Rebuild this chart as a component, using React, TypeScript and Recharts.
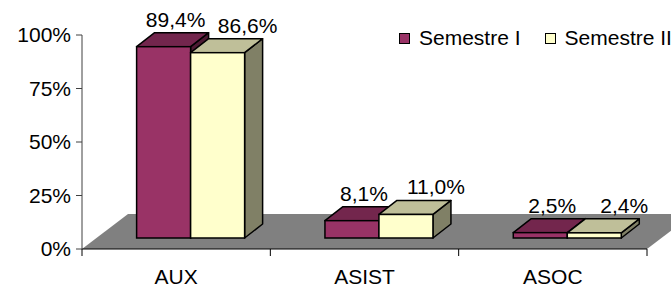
import { BarChart, Bar, XAxis, YAxis, Legend, ReferenceArea } from "recharts";

const categories = ["AUX", "ASIST", "ASOC"];
const semestreI = [89.4, 8.1, 2.5];
const semestreII = [86.6, 11.0, 2.4];
const yTicks = [0, 25, 50, 75, 100];

const data = categories.map((name, i) => ({
  name,
  s1: semestreI[i],
  s2: semestreII[i],
}));

const FONT = '"Liberation Sans", Arial, sans-serif';
const FS = 21;
// bars stand half way back on the floor
const SHIFT_X = 14.5;
const SHIFT_Y = 11;
// depth of a single box
const DEPTH_X = 18;
const DEPTH_Y = 14;
// depth of the floor
const FLOOR_X = 46;
const FLOOR_Y = 35;

const fmt = (v: number) => v.toFixed(1).replace(".", ",") + "%";

function Box3D(props: any) {
  const { x, y, width: w, height: h, front, top, side, value, labelDx } = props;
  const fx = x + SHIFT_X;
  const fy = y - SHIFT_Y;
  const topPts = [
    [fx, fy],
    [fx + DEPTH_X, fy - DEPTH_Y],
    [fx + w + DEPTH_X, fy - DEPTH_Y],
    [fx + w, fy],
  ];
  const sidePts = [
    [fx + w, fy],
    [fx + w + DEPTH_X, fy - DEPTH_Y],
    [fx + w + DEPTH_X, fy + h - DEPTH_Y],
    [fx + w, fy + h],
  ];
  const pts = (p: number[][]) => p.map((q) => q.join(",")).join(" ");
  return (
    <g>
      <polygon points={pts(sidePts)} fill={side} stroke="#000" strokeWidth={1.5} strokeLinejoin="round" />
      <polygon points={pts(topPts)} fill={top} stroke="#000" strokeWidth={1.5} strokeLinejoin="round" />
      <rect x={fx} y={fy} width={w} height={h} fill={front} stroke="#000" strokeWidth={1.5} />
      <text
        x={fx + w / 2 + labelDx}
        y={fy - DEPTH_Y - 6}
        textAnchor="middle"
        fontFamily={FONT}
        fontSize={FS}
        fill="#000"
      >
        {fmt(value)}
      </text>
    </g>
  );
}

function Floor(props: any) {
  const { x, y, width, height } = props;
  const b = y + height;
  const points = [
    [x, b],
    [x + width, b],
    [x + width + FLOOR_X, b - FLOOR_Y],
    [x + FLOOR_X, b - FLOOR_Y],
  ]
    .map((q) => q.join(","))
    .join(" ");
  return <polygon points={points} fill="#808080" stroke="none" />;
}

function CategoryTick(props: any) {
  const { x, y, payload, index, width, visibleTicksCount } = props;
  const n = visibleTicksCount ?? categories.length;
  const band = (width ?? 565) / n;
  const lineTop = y - 20;
  return (
    <g>
      <line x1={x - band / 2} y1={lineTop} x2={x - band / 2} y2={lineTop + 7} stroke="#000" />
      {index === n - 1 && (
        <line x1={x + band / 2} y1={lineTop} x2={x + band / 2} y2={lineTop + 7} stroke="#000" />
      )}
      <text x={x} y={y} dy="0.71em" textAnchor="middle" fontFamily={FONT} fontSize={FS} fill="#000">
        {payload.value}
      </text>
    </g>
  );
}

function LegendBox({ payload }: any) {
  return (
    <div style={{ display: "flex", alignItems: "center", fontFamily: FONT, fontSize: FS, whiteSpace: "nowrap", color: "#000" }}>
      {(payload || []).map((p: any) => (
        <span key={p.value} style={{ display: "flex", alignItems: "center", marginRight: 24 }}>
          <span
            style={{
              display: "inline-block",
              width: 11,
              height: 11,
              boxSizing: "border-box",
              border: "1px solid #000",
              background: p.color,
              marginRight: 9,
            }}
          />
          {p.value}
        </span>
      ))}
    </div>
  );
}

export default function App() {
  return (
    <div style={{ width: 671, height: 287, overflow: "hidden", background: "#fff" }}>
      <style>{"body{margin:0}"}</style>
      <BarChart
        width={671}
        height={287}
        data={data}
        margin={{ top: 35, right: 24, bottom: 8, left: 22 }}
        barCategoryGap="21.3%"
        barGap={0}
      >
        <ReferenceArea y1={0} y2={100} ifOverflow="visible" shape={<Floor />} />
        <XAxis
          dataKey="name"
          height={30}
          tick={<CategoryTick />}
          tickLine={false}
          tickSize={7}
          tickMargin={13}
          axisLine={{ stroke: "#000" }}
          interval={0}
        />
        <YAxis
          width={60}
          domain={[0, 100]}
          ticks={yTicks}
          tickFormatter={(v: number) => v + "%"}
          tick={{ fill: "#000", fontSize: FS, fontFamily: FONT }}
          tickSize={6}
          tickMargin={5}
          axisLine={{ stroke: "#404040" }}
          tickLine={{ stroke: "#404040" }}
        />
        <Legend
          layout="horizontal"
          verticalAlign="middle"
          align="center"
          content={<LegendBox />}
          wrapperStyle={{ top: 26, left: 399, width: "auto" }}
        />
        <Bar
          dataKey="s1"
          name="Semestre I"
          fill="#993366"
          isAnimationActive={false}
          shape={(p: any) => (
            <Box3D {...p} value={p.payload.s1} front="#993366" top="#73264D" side="#4D1A33" labelDx={12} />
          )}
        />
        <Bar
          dataKey="s2"
          name="Semestre II"
          fill="#FFFFCC"
          isAnimationActive={false}
          shape={(p: any) => (
            <Box3D {...p} value={p.payload.s2} front="#FFFFCC" top="#BFBF99" side="#808066" labelDx={30} />
          )}
        />
      </BarChart>
    </div>
  );
}
